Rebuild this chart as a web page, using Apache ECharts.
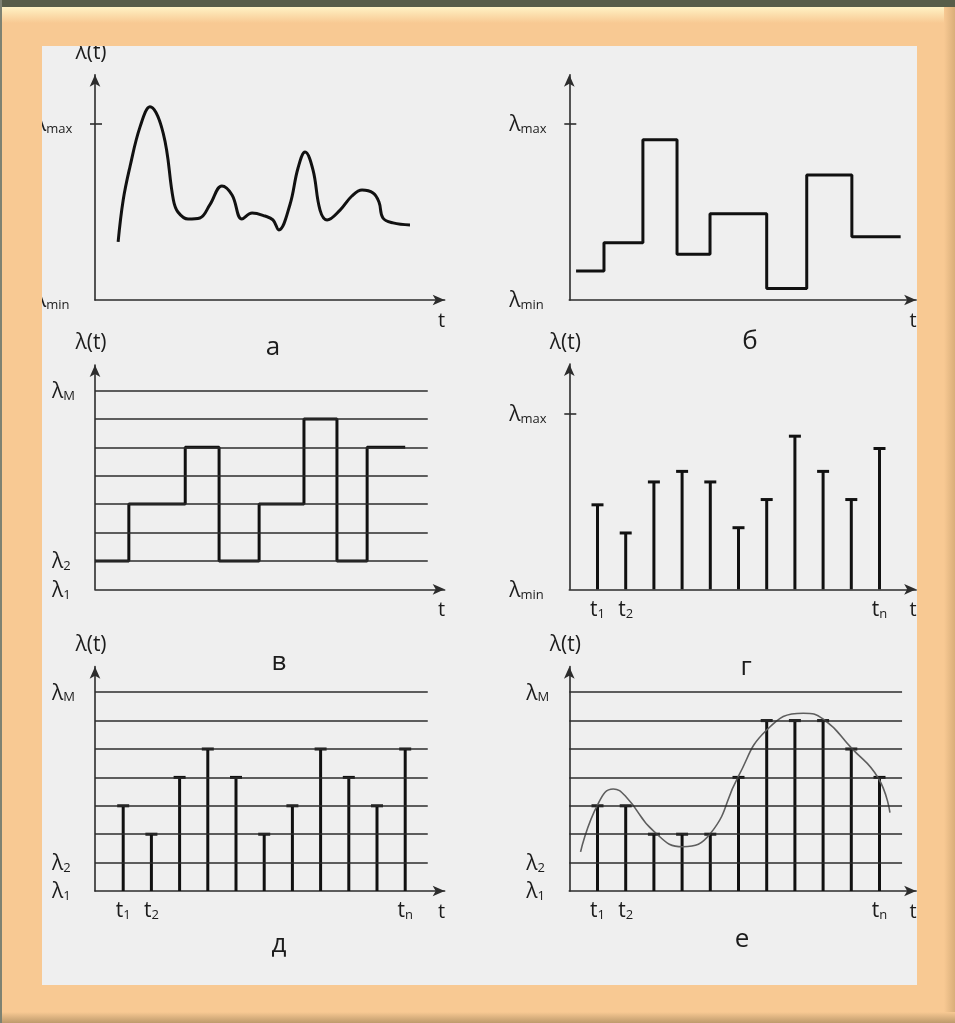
<!DOCTYPE html>
<html>
<head>
<meta charset="utf-8">
<script src="https://cdn.jsdelivr.net/npm/echarts@6/dist/echarts.min.js"></script>
<style>
  html, body { margin: 0; padding: 0; background: #F8C993; }
  #chart { width: 955px; height: 1023px; }
</style>
</head>
<body>
<div id="chart"></div>
<script>
// Time is measured in sampling steps (t1 = 1 … tn = 11).
// Amplitude panels (а, б, г): λmin = 0, λmax = 10.
// Quantized panels (в, д, е): λ1 = 0, λ2 = 1 … λM = 7.

// а — continuous process λ(t)
const curveT = [0.82, 1.0, 1.24, 1.6, 1.95, 2.42, 2.78, 2.94, 3.3, 3.72, 4.07, 4.5, 4.86, 5.21,
                5.57, 6.03, 6.31, 6.52, 6.91, 7.2, 7.45, 7.73, 7.98, 8.23, 8.69, 9.11, 9.47,
                9.86, 10.07, 10.21, 10.57, 11.17];
const curveL = [3.3, 5.68, 7.57, 9.85, 10.98, 9.47, 5.68, 5.0, 4.6, 4.66, 5.4, 6.48, 5.97, 4.6,
                4.94, 4.77, 4.55, 3.98, 5.4, 7.5, 8.41, 7.39, 5.11, 4.55, 5.11, 5.91, 6.25,
                6.08, 5.57, 4.66, 4.38, 4.26];

// б — piecewise-constant process: switching instants and held values
const stepEdgesB = [0.24, 1.23, 2.61, 3.82, 4.99, 7.0, 8.42, 10.02, 11.75];
const stepValuesB = [1.65, 3.25, 9.1, 2.6, 4.9, 0.65, 7.1, 3.6];

// в — amplitude-quantized process: switching instants and level numbers
const stepEdgesV = [0, 1.2, 3.2, 4.4, 5.82, 7.41, 8.58, 9.65, 11.0];
const stepLevelsV = [1, 3, 5, 1, 3, 6, 1, 5];

// г — time-sampled process
const sampleTimes = [1, 2, 3, 4, 5, 6, 7, 8, 9, 10, 11];
const samplesG = [4.8, 3.2, 6.1, 6.7, 6.1, 3.5, 5.1, 8.7, 6.7, 5.1, 8.0];

// д — sampled and quantized
const levelsD = [3, 2, 4, 5, 4, 2, 3, 5, 4, 3, 5];

// е — sampled and quantized, with the original curve
const levelsE = [3, 3, 2, 2, 2, 4, 6, 6, 6, 5, 4];
const envT = [0.40, 1.01, 1.56, 2.01, 3.01, 4.02, 5.01, 5.99, 7.0, 8.3, 9.01, 10.01, 10.96, 11.37];
const envL = [1.38, 3.05, 3.59, 3.32, 2.09, 1.56, 2.03, 4.03, 5.67, 6.26, 6.05, 5.03, 3.97, 2.76];

const quantLevels = [1, 2, 3, 4, 5, 6, 7];
const tickedSamples = [1, 2, 11];
const panelLetters = ['а', 'б', 'в', 'г', 'д', 'е'];

// ---- drawing ----
const FONT = '"Open Sans", "Noto Sans", "DejaVu Sans", sans-serif';
const INK = '#111111';
const AXIS = '#2c2c2c';
const TEXT = '#1c1c1c';

const UX = 28.2;   // px per sampling step
const UA = 17.6;   // px per amplitude unit
const UQ = 28.4;   // px per quantization level
const LEVEL_END = 11.8;

const panels = [
  { x0: 95,    base: 300,   xMax: 12.4, kind: 'amp',   yName: true },
  { x0: 569.3, base: 300,   xMax: 12.3, kind: 'amp',   yName: false },
  { x0: 95,    base: 589.3, xMax: 12.4, kind: 'quant', yName: true },
  { x0: 569.3, base: 589.3, xMax: 12.3, kind: 'amp',   yName: true, tLabels: true },
  { x0: 95,    base: 891,   xMax: 12.4, kind: 'quant', yName: true, tLabels: true },
  { x0: 569.3, base: 891,   xMax: 12.3, kind: 'quant', yName: true, tLabels: true }
];
const letterPos = [[273, 348], [750, 342], [279, 663], [746, 668], [279, 945], [742, 940]];

const rich = {
  m: { fontFamily: FONT, fontSize: 21, color: TEXT, lineHeight: 24, verticalAlign: 'bottom' },
  s: { fontFamily: FONT, fontSize: 13, color: TEXT, lineHeight: 13, verticalAlign: 'bottom' }
};
const sub = (a, b) => '{m|' + a + '}{s|' + b + '}';

const grids = [], xAxes = [], yAxes = [], series = [];
const yIndex = [];

panels.forEach((p, i) => {
  const amp = p.kind === 'amp';
  const unit = amp ? UA : UQ;
  const yMax = amp ? 12.8 : 7.9;
  grids.push({ left: p.x0, top: p.base - yMax * unit, width: p.xMax * UX, height: yMax * unit });

  xAxes.push({
    type: 'value', gridIndex: i, min: 0, max: p.xMax,
    name: 't', nameLocation: 'end', nameGap: -3,
    nameTextStyle: { fontFamily: FONT, fontSize: 20, color: TEXT, align: 'center', verticalAlign: 'top', padding: [11, 0, 0, 0] },
    axisLine: { show: true, onZero: false, symbol: ['none', 'arrow'], symbolSize: [8, 12], lineStyle: { color: AXIS, width: 1.6 } },
    axisTick: { show: false },
    splitLine: { show: false },
    axisLabel: p.tLabels ? {
      show: true, customValues: tickedSamples, margin: 7,
      formatter: v => sub('t', v === 11 ? 'n' : v), rich: rich
    } : { show: false }
  });

  yIndex.push(yAxes.length);
  yAxes.push({
    type: 'value', gridIndex: i, min: 0, max: yMax, position: 'left', offset: 0,
    name: p.yName ? 'λ(t)' : '', nameLocation: 'end', nameGap: 11,
    nameTextStyle: { fontFamily: FONT, fontSize: 21, color: TEXT, padding: [0, 8, 0, 0] },
    axisLine: { show: true, onZero: false, symbol: ['none', 'arrow'], symbolSize: [8, 12], lineStyle: { color: AXIS, width: 1.6 } },
    axisTick: amp ? { show: true, length: 5, customValues: [10], lineStyle: { color: AXIS, width: 1.6 } } : { show: false },
    splitLine: { show: false },
    axisLabel: {
      show: true, align: 'left', margin: amp ? 60 : 43,
      customValues: amp ? [0, 10] : [0, 1, 7],
      formatter: v => amp ? sub('λ', v === 10 ? 'max' : 'min') : sub('λ', v === 0 ? '1' : v === 1 ? '2' : 'M'),
      rich: rich
    }
  });
  if (amp) {
    // inner half of the λmax tick mark
    yAxes.push({
      type: 'value', gridIndex: i, min: 0, max: yMax, position: 'left', offset: 0,
      axisLine: { show: false },
      axisTick: { show: true, inside: true, length: 7, customValues: [10], lineStyle: { color: AXIS, width: 1.6 } },
      axisLabel: { show: false }, splitLine: { show: false }
    });
  }
});

const stemItem = (params, api) => {
  const t = api.value(0), v = api.value(1);
  const b = api.coord([t, 0]);
  const top = api.coord([t, v]);
  return {
    type: 'group',
    children: [
      { type: 'line', shape: { x1: b[0], y1: b[1], x2: top[0], y2: top[1] }, style: { stroke: INK, lineWidth: 3 } },
      { type: 'line', shape: { x1: top[0] - 6, y1: top[1], x2: top[0] + 6, y2: top[1] }, style: { stroke: INK, lineWidth: 3 } }
    ]
  };
};
const zip = (a, b) => a.map((v, i) => [v, b[i]]);
const held = (edges, vals) => edges.map((t, i) => [t, vals[Math.min(i, vals.length - 1)]]);
const levelLines = (i) => ({
  type: 'line', xAxisIndex: i, yAxisIndex: yIndex[i], data: [], z: 1, silent: true,
  markLine: {
    silent: true, symbol: ['none', 'none'], label: { show: false },
    lineStyle: { color: AXIS, width: 1.6, type: 'solid' },
    emphasis: { disabled: true },
    data: quantLevels.map(l => [{ coord: [0, l] }, { coord: [LEVEL_END, l] }])
  }
});

// а
series.push({ type: 'line', xAxisIndex: 0, yAxisIndex: yIndex[0], data: zip(curveT, curveL),
  smooth: 0.4, showSymbol: false, lineStyle: { color: INK, width: 3 }, z: 3 });
// б
series.push({ type: 'line', xAxisIndex: 1, yAxisIndex: yIndex[1], data: held(stepEdgesB, stepValuesB),
  step: 'end', showSymbol: false, lineStyle: { color: INK, width: 3 }, z: 3 });
// в
series.push(levelLines(2));
series.push({ type: 'line', xAxisIndex: 2, yAxisIndex: yIndex[2], data: held(stepEdgesV, stepLevelsV),
  step: 'end', showSymbol: false, lineStyle: { color: INK, width: 3 }, z: 3 });
// г
series.push({ type: 'custom', xAxisIndex: 3, yAxisIndex: yIndex[3], data: zip(sampleTimes, samplesG),
  renderItem: stemItem, z: 3 });
// д
series.push(levelLines(4));
series.push({ type: 'custom', xAxisIndex: 4, yAxisIndex: yIndex[4], data: zip(sampleTimes, levelsD),
  renderItem: stemItem, z: 3 });
// е
series.push(levelLines(5));
series.push({ type: 'custom', xAxisIndex: 5, yAxisIndex: yIndex[5], data: zip(sampleTimes, levelsE),
  renderItem: stemItem, z: 3 });
series.push({ type: 'line', xAxisIndex: 5, yAxisIndex: yIndex[5], data: zip(envT, envL),
  smooth: 0.5, showSymbol: false, lineStyle: { color: '#5e5e5e', width: 1.6 }, z: 4 });

// frame around the drawing sheet
const ORANGE = '#F8C993';
const frame = [
  { type: 'rect', shape: { x: 0, y: 0, width: 955, height: 46 }, style: { fill: ORANGE } },
  { type: 'rect', shape: { x: 0, y: 985, width: 955, height: 38 }, style: { fill: ORANGE } },
  { type: 'rect', shape: { x: 0, y: 0, width: 42, height: 1023 }, style: { fill: ORANGE } },
  { type: 'rect', shape: { x: 917, y: 0, width: 38, height: 1023 }, style: { fill: ORANGE } },
  { type: 'rect', shape: { x: 2, y: 7, width: 951, height: 16 },
    style: { fill: { type: 'linear', x: 0, y: 0, x2: 0, y2: 1, colorStops: [
      { offset: 0, color: '#FFF2C4' }, { offset: 1, color: ORANGE }] } } },
  { type: 'rect', shape: { x: 944, y: 7, width: 11, height: 1016 },
    style: { fill: { type: 'linear', x: 0, y: 0, x2: 1, y2: 0, colorStops: [
      { offset: 0, color: ORANGE }, { offset: 1, color: '#D9AE7A' }] } } },
  { type: 'rect', shape: { x: 0, y: 1012, width: 955, height: 11 },
    style: { fill: { type: 'linear', x: 0, y: 0, x2: 0, y2: 1, colorStops: [
      { offset: 0, color: ORANGE }, { offset: 1, color: '#BE9A6C' }] } } },
  { type: 'rect', shape: { x: 0, y: 0, width: 955, height: 7 }, style: { fill: '#585D49' } },
  { type: 'rect', shape: { x: 0, y: 0, width: 2, height: 1023 }, style: { fill: '#7E8272' } }
].map(e => Object.assign(e, { z: 100, silent: true }));

const letters = panelLetters.map((s, i) => ({
  type: 'text', x: letterPos[i][0], y: letterPos[i][1], z: 10, silent: true,
  style: { text: s, fontFamily: FONT, fontSize: 26, fill: TEXT, align: 'center', verticalAlign: 'middle' }
}));

const chart = echarts.init(document.getElementById('chart'));
chart.setOption({
  backgroundColor: '#EFEFEF',
  animation: false,
  grid: grids,
  xAxis: xAxes,
  yAxis: yAxes,
  series: series,
  graphic: { elements: frame.concat(letters) }
});
</script>
</body>
</html>
